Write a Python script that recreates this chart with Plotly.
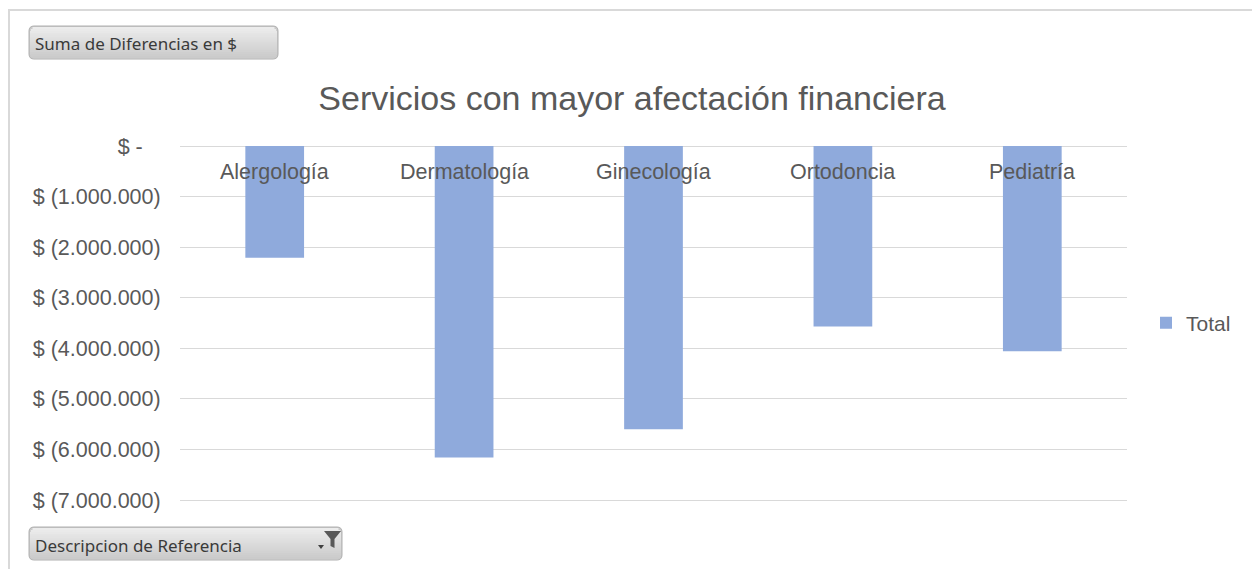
import plotly.graph_objects as go

categories = ["Alergología", "Dermatología", "Ginecología", "Ortodoncia", "Pediatría"]
totals = [-2210000, -6160000, -5600000, -3570000, -4060000]
tick_vals = [0, -1000000, -2000000, -3000000, -4000000, -5000000, -6000000, -7000000]
tick_text = ["$ -\u00a0\u00a0\u00a0", "$ (1.000.000)", "$ (2.000.000)", "$ (3.000.000)", "$ (4.000.000)",
             "$ (5.000.000)", "$ (6.000.000)", "$ (7.000.000)"]
series_name = "Total"
title_text = "Servicios con mayor afectación financiera"
button_top = "Suma de Diferencias en $"
button_bottom = "Descripcion de Referencia"

W, H = 1252, 569
L, R = 180, 1127
Y0_PX, YMIN_PX = 146, 500        # pixel rows of 0 and of the axis minimum
EXTRA = 3                         # extra pixels so edge gridlines are not clipped
T, B = Y0_PX - EXTRA, YMIN_PX + EXTRA
y_lo, y_hi = min(tick_vals), max(tick_vals)
per_px = (y_hi - y_lo) / (YMIN_PX - Y0_PX)
y_range = [y_lo - EXTRA * per_px, y_hi + EXTRA * per_px]


def px(x):
    return (x - L) / (R - L)


def py(y):
    return (B - y) / (B - T)


def rounded_rect(x0, y0, x1, y1, r):
    return (f"M {px(x0 + r)} {py(y0)} L {px(x1 - r)} {py(y0)} "
            f"Q {px(x1)} {py(y0)} {px(x1)} {py(y0 + r)} "
            f"L {px(x1)} {py(y1 - r)} Q {px(x1)} {py(y1)} {px(x1 - r)} {py(y1)} "
            f"L {px(x0 + r)} {py(y1)} Q {px(x0)} {py(y1)} {px(x0)} {py(y1 - r)} "
            f"L {px(x0)} {py(y0 + r)} Q {px(x0)} {py(y0)} {px(x0 + r)} {py(y0)} Z")


FONT = "Liberation Sans, Arial, sans-serif"
TXT = "#595959"

fig = go.Figure()
fig.add_trace(go.Bar(
    x=categories, y=totals, name=series_name,
    marker=dict(color="#8FAADC", line=dict(width=0)),
))

shapes = []
# outer chart frame
shapes.append(dict(type="path", xref="paper", yref="paper",
                   path=f"M {px(9)} {py(600)} L {px(9)} {py(10)} L {px(1260)} {py(10)}",
                   line=dict(color="#d9d9d9", width=2), layer="below"))


def button(x0, y0, x1, y1):
    out = []
    out.append(dict(type="path", xref="paper", yref="paper", path=rounded_rect(x0, y0, x1, y1, 5),
                    fillcolor="#c9c9c9", line=dict(color="#b0b0b0", width=1), layer="above"))
    n = 16
    h = (y1 - y0 - 2) / n
    top = (236, 236, 236)
    bot = (203, 203, 203)
    for i in range(n):
        t = i / (n - 1)
        c = tuple(int(round(top[k] + (bot[k] - top[k]) * t)) for k in range(3))
        ya = y0 + 1 + i * h
        yb = ya + h + 0.6
        inset = 0
        if i == 0 or i == n - 1:
            inset = 2.5
        elif i == 1 or i == n - 2:
            inset = 0.8
        out.append(dict(type="rect", xref="paper", yref="paper",
                        x0=px(x0 + 1 + inset), x1=px(x1 - 1 - inset), y0=py(yb), y1=py(ya),
                        fillcolor=f"rgb{c}", line=dict(width=0), layer="above"))
    return out


shapes += button(29, 26, 278, 59)
shapes += button(29, 527, 342, 560)
# funnel icon
shapes.append(dict(type="path", xref="paper", yref="paper",
                   path=(f"M {px(324)} {py(531)} L {px(341)} {py(531)} L {px(334.5)} {py(539)} "
                         f"L {px(334.5)} {py(548)} L {px(330.5)} {py(546)} L {px(330.5)} {py(539)} Z"),
                   fillcolor="#595959", line=dict(width=0), layer="above"))
shapes.append(dict(type="path", xref="paper", yref="paper",
                   path=f"M {px(318)} {py(545)} L {px(324)} {py(545)} L {px(321)} {py(549)} Z",
                   fillcolor="#404040", line=dict(width=0), layer="above"))

annotations = [
    dict(text=button_top, xref="paper", yref="paper", x=px(33), y=py(43), xanchor="left",
         yanchor="middle", showarrow=False,
         font=dict(family="Noto Sans, Open Sans, sans-serif", size=17, color="#3a3a3a")),
    dict(text=button_bottom, xref="paper", yref="paper", x=px(33), y=py(545), xanchor="left",
         yanchor="middle", showarrow=False,
         font=dict(family="Noto Sans, Open Sans, sans-serif", size=17, color="#3a3a3a")),
]
# category labels just below the zero line (Excel style)
for cat in categories:
    annotations.append(dict(text=cat, xref="x", yref="y", x=cat, y=0, xanchor="center",
                            yanchor="middle", yshift=-26, showarrow=False,
                            font=dict(family=FONT, size=21.5, color=TXT)))

fig.update_layout(
    width=W, height=H,
    margin=dict(l=L, r=W - R, t=T, b=H - B, autoexpand=False),
    paper_bgcolor="white", plot_bgcolor="white",
    title=dict(text=title_text, x=(632) / W, xanchor="center", y=1 - 98 / H, yanchor="middle",
               font=dict(family=FONT, size=34, color=TXT)),
    bargap=0.69,
    showlegend=True,
    legend=dict(x=px(1146), y=py(323), xanchor="left", yanchor="middle",
                font=dict(family=FONT, size=21, color=TXT), bgcolor="rgba(0,0,0,0)",
                itemwidth=30),
    xaxis=dict(showticklabels=False, showgrid=False, showline=False, zeroline=False,
               ticks="", fixedrange=True),
    yaxis=dict(range=y_range, tickvals=tick_vals, ticktext=tick_text,
               showgrid=True, gridcolor="#d9d9d9", gridwidth=1, zeroline=False,
               showline=False,
               ticks="outside", ticklen=14, tickcolor="rgba(0,0,0,0)",
               tickfont=dict(family=FONT, size=21.5, color=TXT), fixedrange=True),
    shapes=shapes, annotations=annotations,
)

fig.write_html("out.html")
